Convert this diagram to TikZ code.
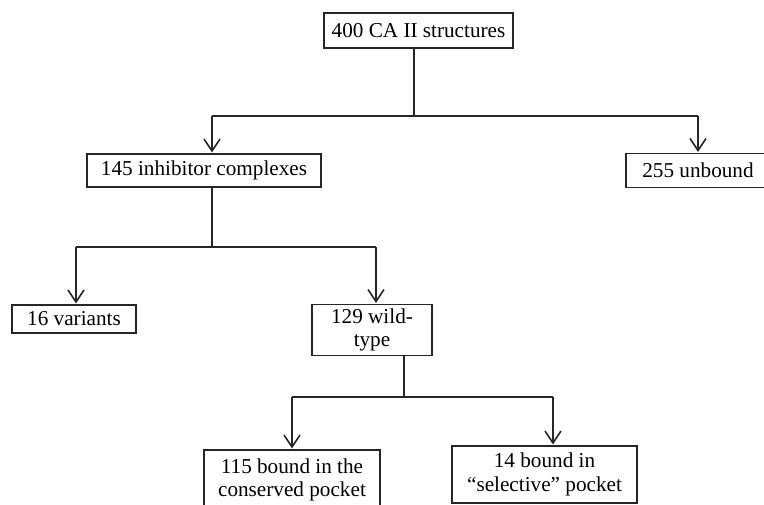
\documentclass[tikz,border=0pt]{standalone}
\usepackage{fontspec}
\setmainfont{Liberation Serif}
\usepackage{tikz}
\usetikzlibrary{arrows.meta}
\tikzset{
  cbox/.style ={rectangle, draw=black!85, line width=0.65pt, fill=white,
                align=center, inner sep=2pt, outer sep=0pt,
                font=\fontsize{10.6}{11.8}\selectfont},
  cline/.style={draw=black!85, line width=0.65pt},
  carr/.style ={cline, -{Straight Barb[length=6pt,width=8pt,line width=0.8pt]}, shorten >=0.8pt},
}

\begin{document}
\begin{tikzpicture}[x=0.5pt, y=-0.5pt]
  \useasboundingbox (0,0) rectangle (764,504);
  \node[cbox, minimum width=94.5pt, minimum height=17.5pt] (all)  at (418.5,30.5) {400 CA II structures};
  \node[cbox, minimum width=117pt,  minimum height=16.5pt] (inh)  at (204,170.5)  {145 inhibitor complexes};
  \node[cbox, minimum width=72pt,   minimum height=17pt]   (unb)  at (698,170.5)  {255 unbound};
  \node[cbox, minimum width=62pt,   minimum height=14pt]   (var)  at (74,319)     {16 variants};
  \node[cbox, minimum width=60pt,   minimum height=23.5pt] (wild) at (372,330)    {129 wild-\\type};
  \node[cbox, minimum width=88pt,   minimum height=30pt]   (cons) at (292,480)    {115 bound in the\\conserved pocket};
  \node[cbox, minimum width=92.5pt, minimum height=28.5pt] (sel)  at (544.5,474.5) {14 bound in\\“selective” pocket};

  \coordinate (j1)  at (414,116);
  \coordinate (j1l) at (212,116);
  \coordinate (j1r) at (698,116);
  \coordinate (j2)  at (212,247);
  \coordinate (j2l) at (76,247);
  \coordinate (j2r) at (376,247);
  \coordinate (j3)  at (404,397);
  \coordinate (j3l) at (292,397);
  \coordinate (j3r) at (553,397);

  \draw[cline] (all.south -| j1) -- (j1);
  \draw[cline] (j1l) -- (j1r);
  \draw[carr]  (j1l) -- (inh.north -| j1l);
  \draw[carr]  (j1r) -- (unb.north -| j1r);

  \draw[cline] (inh.south -| j2) -- (j2);
  \draw[cline] (j2l) -- (j2r);
  \draw[carr]  (j2l) -- (var.north -| j2l);
  \draw[carr]  (j2r) -- (wild.north -| j2r);

  \draw[cline] (wild.south -| j3) -- (j3);
  \draw[cline] (j3l) -- (j3r);
  \draw[carr]  (j3l) -- (cons.north -| j3l);
  \draw[carr]  (j3r) -- (sel.north -| j3r);
\end{tikzpicture}
\end{document}
